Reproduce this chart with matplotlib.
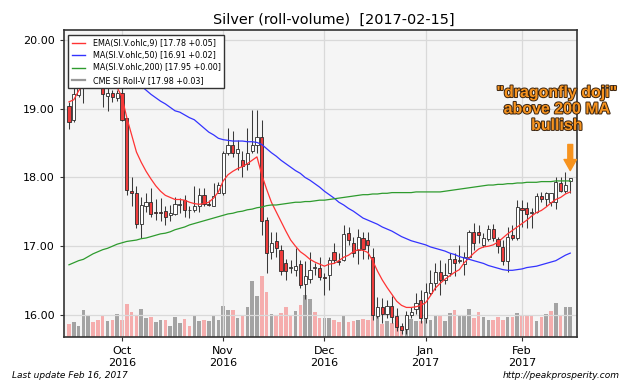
import matplotlib
matplotlib.use('Agg')
import matplotlib.pyplot as plt
import matplotlib.patheffects as pe
from matplotlib.lines import Line2D
import numpy as np
import pandas as pd

# ---------------- data ----------------
holidays = ['2016-11-24', '2016-12-26', '2017-01-02', '2017-01-16']
start_date = '2016-09-16'
end_date = '2017-02-15'

opens = [19.04, 18.83, 19.20, 19.36, 19.50, 19.60, 19.52, 19.33, 19.18, 19.23, 19.15,
         19.23, 18.86, 17.80, 17.77, 17.33, 17.58, 17.65, 17.50, 17.49, 17.51,
         17.45, 17.47, 17.60, 17.67, 17.52, 17.52, 17.59, 17.75, 17.61, 17.59,
         17.78, 17.77, 18.36, 18.47, 18.35, 18.26, 18.20, 18.39, 18.47, 18.59,
         17.38, 16.91, 17.08, 16.95, 16.75, 16.68, 16.66, 16.74, 16.45, 16.52,
         16.68, 16.68, 16.55, 16.58, 16.92, 16.78, 16.80, 17.19, 17.05, 16.94,
         17.12, 17.09, 16.84, 15.99, 16.11, 16.01, 16.13, 15.99, 15.84, 15.79,
         16.00, 16.08, 16.22, 15.95, 16.32, 16.47, 16.63, 16.51, 16.61, 16.82,
         16.78, 16.74, 16.85, 17.21, 17.20, 17.02, 17.10, 17.25, 17.10, 16.99,
         16.79, 17.16, 17.12, 17.55, 17.55, 17.48, 17.50, 17.73, 17.68, 17.65,
         17.65, 17.92, 17.81, 17.95]
closes = [18.81, 19.21, 19.31, 19.50, 19.60, 19.52, 19.40, 19.21, 19.23, 19.17, 19.23,
          18.84, 17.82, 17.77, 17.33, 17.60, 17.65, 17.47, 17.49, 17.48, 17.43,
          17.48, 17.62, 17.62, 17.52, 17.52, 17.59, 17.75, 17.61, 17.60, 17.73,
          17.89, 18.35, 18.47, 18.35, 18.41, 18.17, 18.35, 18.47, 18.59, 17.36,
          16.90, 17.05, 16.97, 16.64, 16.64, 16.68, 16.71, 16.44, 16.57, 16.66,
          16.68, 16.55, 16.54, 16.80, 16.80, 16.77, 17.18, 17.09, 16.90, 17.14,
          16.96, 17.02, 16.00, 16.12, 16.01, 16.13, 15.97, 15.82, 15.78, 16.00,
          16.05, 16.17, 15.95, 16.34, 16.47, 16.63, 16.51, 16.58, 16.81, 16.75,
          16.80, 16.84, 17.21, 17.05, 17.16, 17.12, 17.25, 17.12, 17.00, 16.78,
          17.14, 17.12, 17.57, 17.52, 17.47, 17.50, 17.73, 17.68, 17.77, 17.77,
          17.94, 17.81, 17.89, 17.99]
highs = [19.10, 19.30, 19.36, 19.60, 19.68, 19.70, 19.58, 19.40, 19.32, 19.27, 19.27,
         19.30, 18.87, 18.01, 17.87, 17.72, 17.77, 17.85, 17.69, 17.70, 17.58,
         17.60, 17.72, 17.70, 17.75, 17.58, 17.87, 17.85, 17.85, 17.67, 17.92,
         17.94, 18.38, 18.72, 18.67, 18.55, 18.38, 18.72, 18.98, 18.98, 18.84,
         17.43, 17.21, 17.21, 17.02, 16.82, 16.80, 16.97, 16.80, 16.78, 16.92,
         16.75, 16.85, 16.61, 16.85, 17.04, 16.90, 17.31, 17.28, 17.14, 17.25,
         17.21, 17.21, 16.97, 16.26, 16.24, 16.22, 16.27, 16.10, 15.88, 16.06,
         16.12, 16.32, 16.36, 16.46, 16.65, 16.75, 16.80, 16.75, 16.90, 16.90,
         17.02, 16.92, 17.24, 17.34, 17.31, 17.19, 17.31, 17.33, 17.14, 17.09,
         17.28, 17.31, 17.67, 17.67, 17.65, 17.55, 17.77, 17.79, 17.79, 17.78,
         18.01, 18.01, 18.08, 17.99]
lows = [18.71, 18.81, 19.17, 19.08, 19.42, 19.45, 19.34, 19.03, 18.96, 19.10, 19.11,
        18.82, 17.75, 17.58, 17.26, 17.12, 17.50, 17.43, 17.38, 17.36, 17.31,
        17.36, 17.45, 17.48, 17.43, 17.41, 17.50, 17.50, 17.58, 17.58, 17.58,
        17.77, 17.75, 18.33, 18.30, 18.11, 18.01, 18.11, 18.35, 18.35, 17.16,
        16.61, 16.81, 16.85, 16.58, 16.51, 16.61, 16.56, 16.39, 16.23, 16.46,
        16.58, 16.51, 16.29, 16.36, 16.75, 16.73, 16.78, 17.02, 16.85, 16.74,
        16.82, 16.82, 15.93, 15.95, 15.88, 15.96, 15.88, 15.77, 15.72, 15.72,
        15.95, 16.02, 15.88, 15.88, 16.29, 16.36, 16.29, 16.45, 16.57, 16.56,
        16.75, 16.58, 16.83, 16.95, 17.04, 16.99, 17.07, 17.07, 16.90, 16.73,
        16.63, 17.09, 17.09, 17.28, 17.26, 17.26, 17.48, 17.65, 17.58, 17.58,
        17.54, 17.79, 17.78, 17.77]
ema9 = [19.10, 19.13, 19.26, 19.36, 19.42, 19.46, 19.46, 19.42, 19.38, 19.35, 19.31,
        19.17, 18.87, 18.62, 18.37, 18.22, 18.09, 17.98, 17.88, 17.80, 17.74,
        17.71, 17.68, 17.68, 17.67, 17.64, 17.62, 17.61, 17.62, 17.64, 17.70,
        17.79, 17.95, 18.04, 18.09, 18.13, 18.16, 18.20, 18.25, 18.30, 18.04,
        17.83, 17.64, 17.50, 17.36, 17.22, 17.09, 17.00, 16.92, 16.87, 16.81,
        16.77, 16.74, 16.71, 16.74, 16.75, 16.79, 16.84, 16.87, 16.92, 16.95,
        16.94, 16.91, 16.79, 16.64, 16.51, 16.40, 16.30, 16.20, 16.14, 16.11,
        16.11, 16.12, 16.14, 16.18, 16.28, 16.39, 16.46, 16.52, 16.57, 16.62,
        16.66, 16.76, 16.83, 16.90, 16.96, 16.99, 17.00, 17.02, 17.06, 17.12,
        17.18, 17.23, 17.28, 17.33, 17.38, 17.44, 17.49, 17.52, 17.57, 17.63,
        17.68, 17.71, 17.76, 17.79]
ma50 = [19.75, 19.74, 19.73, 19.72, 19.71, 19.69, 19.67, 19.64, 19.61, 19.58, 19.54,
        19.50, 19.47, 19.43, 19.39, 19.33, 19.27, 19.21, 19.16, 19.11, 19.07,
        19.02, 18.97, 18.95, 18.91, 18.87, 18.84, 18.78, 18.72, 18.66, 18.62,
        18.57, 18.55, 18.54, 18.53, 18.53, 18.53, 18.52, 18.52, 18.51, 18.48,
        18.42, 18.36, 18.31, 18.25, 18.20, 18.15, 18.10, 18.06, 18.00, 17.96,
        17.91, 17.86, 17.80, 17.75, 17.70, 17.64, 17.60, 17.55, 17.51, 17.46,
        17.41, 17.38, 17.35, 17.32, 17.28, 17.25, 17.22, 17.18, 17.14, 17.11,
        17.08, 17.06, 17.04, 17.02, 16.99, 16.97, 16.95, 16.93, 16.90, 16.88,
        16.85, 16.83, 16.81, 16.79, 16.77, 16.75, 16.72, 16.70, 16.68, 16.66,
        16.65, 16.65, 16.66, 16.67, 16.69, 16.70, 16.71, 16.73, 16.75, 16.77,
        16.79, 16.83, 16.87, 16.90]
ma200 = [16.73, 16.76, 16.79, 16.81, 16.85, 16.89, 16.92, 16.95, 16.97, 17.00, 17.03,
         17.05, 17.07, 17.08, 17.09, 17.11, 17.12, 17.14, 17.16, 17.18, 17.19,
         17.21, 17.24, 17.26, 17.28, 17.31, 17.33, 17.35, 17.37, 17.39, 17.41,
         17.43, 17.45, 17.47, 17.48, 17.50, 17.51, 17.53, 17.54, 17.56, 17.57,
         17.59, 17.60, 17.60, 17.61, 17.62, 17.63, 17.64, 17.64, 17.65, 17.65,
         17.66, 17.67, 17.67, 17.68, 17.69, 17.70, 17.71, 17.72, 17.73, 17.74,
         17.75, 17.75, 17.76, 17.76, 17.77, 17.77, 17.78, 17.78, 17.78, 17.78,
         17.78, 17.79, 17.79, 17.79, 17.79, 17.79, 17.79, 17.80, 17.81, 17.82,
         17.83, 17.84, 17.85, 17.86, 17.87, 17.88, 17.89, 17.89, 17.90, 17.90,
         17.91, 17.91, 17.92, 17.92, 17.93, 17.93, 17.93, 17.94, 17.94, 17.94,
         17.95, 17.95, 17.95, 17.95]
volumes = [13, 15, 11.5, 27.5, 22.5, 15, 17.5, 21.5, 16.5, 17, 23.5,
           17.5, 33.5, 25, 22.5, 28.5, 19, 20, 15, 17.5, 17.5,
           11.5, 20, 14, 18.5, 11.5, 21, 16.5, 17, 16, 22.5,
           17, 31.5, 27.5, 27, 19, 22.5, 30, 56, 41.5, 61.5,
           45, 23.5, 22.5, 24, 30, 22.5, 26.5, 32.5, 42, 38,
           25, 19, 19, 19, 17.5, 15, 21.5, 15, 16, 17.5,
           18, 17.5, 22, 20, 13, 16, 14, 16, 10, 15,
           18, 16, 16, 23, 17, 21, 21, 16, 24, 27.5,
           21, 21, 28, 19, 25, 20, 17.5, 17, 20, 17.5,
           20, 20, 24, 22.5, 22.5, 21.5, 16, 20, 23.5, 26.5,
           34, 22, 30, 30]
vol_dir = ("duuuudddudu" "dddduuduud" "uuudduuduu" "uuududuuud" "dudddduduu"
           "dduudduddu" "dddududddu" "uuduuuduud" "uuudduuddd" "ududddudud" "uduu")

legend_labels = ['EMA(SI.V.ohlc,9) [17.78 +0.05]',
                 'MA(SI.V.ohlc,50) [16.91 +0.02]',
                 'MA(SI.V.ohlc,200) [17.95 +0.00]',
                 'CME SI Roll-V [17.98 +0.03]']
title = 'Silver (roll-volume)  [2017-02-15]'
note = '"dragonfly doji"\nabove 200 MA\nbullish'

# ---------------- figure ----------------
dates = pd.bdate_range(start_date, end_date)
dates = dates[~dates.isin(pd.to_datetime(holidays))]
x = np.arange(len(dates))
o = np.array(opens); c = np.array(closes)
h = np.array(highs); l = np.array(lows)

W, H = 640, 384
fig = plt.figure(figsize=(6.4, 3.84), dpi=100)
ax = fig.add_axes([64 / W, 1 - 337 / H, 513 / W, 307 / H])
axv = ax.twinx()
ax.set_zorder(2)
axv.set_zorder(1)
ax.patch.set_visible(False)
axv.patch.set_visible(True)
axv.patch.set_facecolor('#f5f5f5')

# volume
vcol = ['#a3a3a3' if d == 'u' else '#f5adad' for d in vol_dir]
axv.bar(x, volumes, width=0.74, color=vcol, linewidth=0)
axv.set_ylim(0, 307)
axv.set_yticks([])
for s in axv.spines.values():
    s.set_visible(False)

# grid
ax.grid(True, color='#d9d9d9', linewidth=0.9, zorder=0)
ax.set_axisbelow(True)

# candles
ax.vlines(x, l, h, color='#3a3a3a', linewidth=0.75, zorder=3)
up = c >= o
body_bottom = np.minimum(o, c)
body_h = np.maximum(np.abs(c - o), 0.012)
ax.bar(x, body_h, bottom=body_bottom, width=0.66,
       color=np.where(up, '#ffffff', '#ee3b3b'), edgecolor='#2a2a2a',
       linewidth=0.6, zorder=4)

# moving averages
ax.plot(x, ema9, color='#ff3333', linewidth=0.9, zorder=5)
ax.plot(x, ma50, color='#3333ff', linewidth=0.9, zorder=5)
ax.plot(x, ma200, color='#2e9b2e', linewidth=0.9, zorder=5)

handles = [Line2D([], [], color='#ff3333', lw=1.0),
           Line2D([], [], color='#3333ff', lw=1.0),
           Line2D([], [], color='#2e9b2e', lw=1.0),
           Line2D([], [], color='#999999', lw=1.6)]
leg = ax.legend(handles, legend_labels, loc='upper left',
                bbox_to_anchor=(4 / 513, 1 - 5 / 307), borderaxespad=0,
                fontsize=5.8, handlelength=1.6, handletextpad=1.0,
                labelspacing=0.42, borderpad=0.45, fancybox=False,
                framealpha=1, edgecolor='#333333')
leg.get_frame().set_linewidth(1.0)
leg.set_zorder(10)

# axes limits & ticks
ax.set_xlim(-1.03, 105.4)
ax.set_ylim(15.68, 20.145)
ax.set_yticks([16, 17, 18, 19, 20])
ax.set_yticklabels(['%.2f' % v for v in [16, 17, 18, 19, 20]])
month_idx = [i for i in range(1, len(dates)) if dates[i].month != dates[i - 1].month]
ax.set_xticks(month_idx)
ax.set_xticklabels([dates[i].strftime('%b') + '\n' + dates[i].strftime('%Y') for i in month_idx])
ax.tick_params(axis='both', labelsize=8, length=3, color='#333333')
for s in ax.spines.values():
    s.set_color('#333333')
    s.set_linewidth(1.2)

# title and footers
fig.text(334 / W, 1 - 20 / H, title, ha='center', va='center', fontsize=10.4)
fig.text(12 / W, 1 - 375 / H, 'Last update Feb 16, 2017', ha='left', va='center',
         fontsize=6.5, style='italic')
fig.text(620 / W, 1 - 375 / H, 'http://peakprosperity.com', ha='right', va='center',
         fontsize=6.5, style='italic')

# annotation
orange = '#f7931e'
t = fig.text(557 / W, 1 - 109 / H, note, ha='center', va='center', fontsize=11.5,
             fontweight='bold', family='Liberation Sans', color=orange,
             linespacing=1.12)
t.set_path_effects([pe.withStroke(linewidth=1.4, foreground='#3a2410')])
ax.annotate('', xy=(x[-1], 18.10), xytext=(x[-1], 18.48),
            arrowprops=dict(arrowstyle='simple,head_width=0.9,head_length=0.8,tail_width=0.35',
                            color=orange, shrinkA=0, shrinkB=0),
            annotation_clip=False, zorder=11)

fig.savefig('out.png', dpi=100)
